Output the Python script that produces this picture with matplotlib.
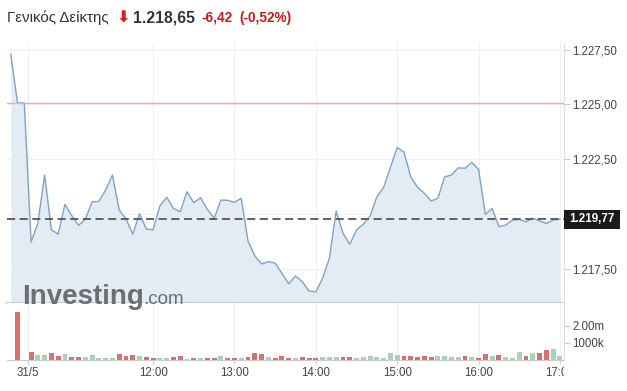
import numpy as np
from matplotlib import pyplot as plt
from matplotlib.patches import Rectangle
from matplotlib.transforms import Bbox, TransformedBbox, blended_transform_factory

plt.rcParams['font.family'] = ['Liberation Sans', 'DejaVu Sans']

# 5-minute bars from 10:15, Athens general index, 31/5
prices = [
    1227.29, 1225.07, 1225.07, 1218.72, 1219.58, 1221.78, 1219.28, 1219.09, 1220.45, 1219.93,
    1219.49, 1219.76, 1220.56, 1220.58, 1221.10, 1221.78, 1220.19, 1219.78, 1219.09, 1220.02,
    1219.32, 1219.29, 1220.38, 1220.77, 1220.26, 1220.11, 1221.02, 1220.52, 1220.75, 1220.22,
    1219.81, 1220.64, 1220.63, 1220.54, 1220.72, 1218.77, 1218.10, 1217.73, 1217.83, 1217.77,
    1217.30, 1216.82, 1217.18, 1216.92, 1216.50, 1216.46, 1217.08, 1217.99, 1220.14, 1219.13,
    1218.62, 1219.28, 1219.54, 1219.91, 1220.79, 1221.22, 1222.13, 1223.04, 1222.82, 1221.70,
    1221.22, 1220.95, 1220.60, 1220.72, 1221.70, 1221.78, 1222.11, 1222.09, 1222.36, 1222.04,
    1219.99, 1220.26, 1219.43, 1219.50, 1219.73, 1219.76, 1219.65, 1219.81, 1219.69, 1219.58,
    1219.73, 1219.77,
]
# volume in millions
volumes = [
    0.00, 2.80, 0.00, 0.45, 0.29, 0.29, 0.39, 0.25, 0.35, 0.18,
    0.18, 0.18, 0.28, 0.10, 0.14, 0.10, 0.35, 0.22, 0.29, 0.25,
    0.18, 0.14, 0.14, 0.14, 0.18, 0.22, 0.04, 0.10, 0.10, 0.10,
    0.10, 0.22, 0.10, 0.14, 0.14, 0.18, 0.39, 0.35, 0.18, 0.14,
    0.25, 0.10, 0.10, 0.16, 0.10, 0.10, 0.16, 0.16, 0.16, 0.16,
    0.16, 0.10, 0.16, 0.24, 0.16, 0.10, 0.39, 0.29, 0.24, 0.24,
    0.16, 0.24, 0.16, 0.24, 0.24, 0.16, 0.16, 0.24, 0.16, 0.10,
    0.34, 0.25, 0.29, 0.19, 0.10, 0.47, 0.24, 0.39, 0.39, 0.59,
    0.63, 0.24,
]
prev_close = 1225.07
last_price = 1219.77
price_ticks = [1217.5, 1220.0, 1222.5, 1225.0, 1227.5]
vol_ticks = [1.0, 2.0]
vol_tick_labels = ['1000k', '2.00m']
time_labels = ['31/5', '12:00', '13:00', '14:00', '15:00', '16:00', '17:00']
time_hours = [10.4583, 12, 13, 14, 15, 16, 17]
start_hour = 10.25
bar_minutes = 5

W, H = 627, 391


def fx(px):
    return px / W


def fy(py):
    return 1 - py / H


def gr(v):
    s = f'{v:,.2f}'
    return s.replace(',', 'X').replace('.', ',').replace('X', '.')


x = np.arange(len(prices))
tick_x = [(h - start_hour) * 60 / bar_minutes for h in time_hours]
up = np.r_[True, np.diff(prices) >= 0]
bar_colors = ['#a6d5b3' if u else '#d96f6f' for u in up]

fig = plt.figure(figsize=(W / 100, H / 100), dpi=100)
ax = fig.add_axes([fx(7), fy(303), fx(557), 260 / H])
axv = fig.add_axes([fx(7), fy(360), fx(557), 57 / H])

ylo, yhi = 1215.95, 1227.80
ax.fill_between(x, prices, ylo, color='#e3ecf5', lw=0)
ax.plot(x, prices, color='#7fa3c3', lw=1)
ax.axhline(prev_close, color='#f3a9a9', lw=1)
ax.axhline(last_price, color='#555555', lw=1.3, ls=(0, (4.5, 2.5)))
ax.set_ylim(ylo, yhi)
ax.set_xlim(-0.55, 81.6)
ax.yaxis.tick_right()
ax.set_yticks(price_ticks)
ax.set_yticklabels([gr(v) for v in price_ticks])
ax.set_xticks(tick_x)
ax.set_xticklabels([])
ax.tick_params(axis='x', length=0)
ax.tick_params(axis='y', length=4, color='#cccccc', labelsize=8.3, labelcolor='#444444', pad=2)
ax.grid(color='#f0f0f0', lw=0.8)
ax.set_axisbelow(True)
for s in ['top', 'left']:
    ax.spines[s].set_visible(False)
ax.spines['right'].set_color('#dddddd')
ax.spines['bottom'].set_color('#c6ccd6')
ax.spines['bottom'].set_linewidth(1.5)

axv.bar(x, volumes, width=0.72, color=bar_colors, lw=0)
axv.set_ylim(0, 3.35)
axv.set_xlim(-0.55, 81.6)
axv.yaxis.tick_right()
axv.set_yticks(vol_ticks)
axv.set_yticklabels(vol_tick_labels)
axv.set_xticks(tick_x)
axv.set_xticklabels([])
axv.tick_params(axis='x', length=3, color='#cccccc')
axv.tick_params(axis='y', length=4, color='#cccccc', labelsize=8.3, labelcolor='#444444', pad=2)
axv.grid(axis='x', color='#f0f0f0', lw=0.8)
axv.set_axisbelow(True)
for s in ['top', 'left']:
    axv.spines[s].set_visible(False)
axv.spines['right'].set_color('#dddddd')
axv.spines['bottom'].set_color('#cccccc')

# time labels, clipped at the price scale like the original
clip = TransformedBbox(Bbox.from_extents(0, 0, fx(564), 1), fig.transFigure)
tr = blended_transform_factory(axv.transData, fig.transFigure)
for tx, lbl in zip(tick_x, time_labels):
    t = fig.text(tx, fy(373), lbl, transform=tr, ha='center', va='center',
                 fontsize=8.3, color='#444444')
    t.set_clip_on(True)
    t.set_clip_box(clip)

# last price marker on the right scale
fig.patches.append(Rectangle((fx(564), fy(228.5)), fx(56), 18.5 / H,
                             transform=fig.transFigure, facecolor='#1b1b1b', edgecolor='none'))
fig.text(fx(592), fy(219.3), gr(last_price), ha='center', va='center',
         fontsize=8.4, color='white', fontweight='bold')

# watermark
fig.text(fx(22), fy(304), 'Investing', fontsize=20, fontweight='bold', color='#6d6e70',
         ha='left', va='baseline')
fig.text(fx(143.5), fy(304), '.com', fontsize=13.5, color='#6d6e70', ha='left', va='baseline')

# header
fig.text(fx(7), fy(18), 'Γενικός Δείκτης', fontsize=10.8, color='#333333', ha='left', va='center')
fig.text(fx(123), fy(18.5), '⬇', family=['DejaVu Sans'], fontsize=11.5, fontweight='bold',
         color='#d91c1c', ha='center', va='center')
fig.text(fx(133), fy(18), '1.218,65', fontsize=11.3, fontweight='bold', color='#333333',
         ha='left', va='center')
fig.text(fx(202), fy(18), '-6,42', fontsize=9.8, fontweight='bold', color='#d0181b',
         ha='left', va='center')
fig.text(fx(239), fy(18), '(-0,52%)', fontsize=9.8, fontweight='bold', color='#d0181b',
         ha='left', va='center')

fig.savefig('out.png', dpi=100)
